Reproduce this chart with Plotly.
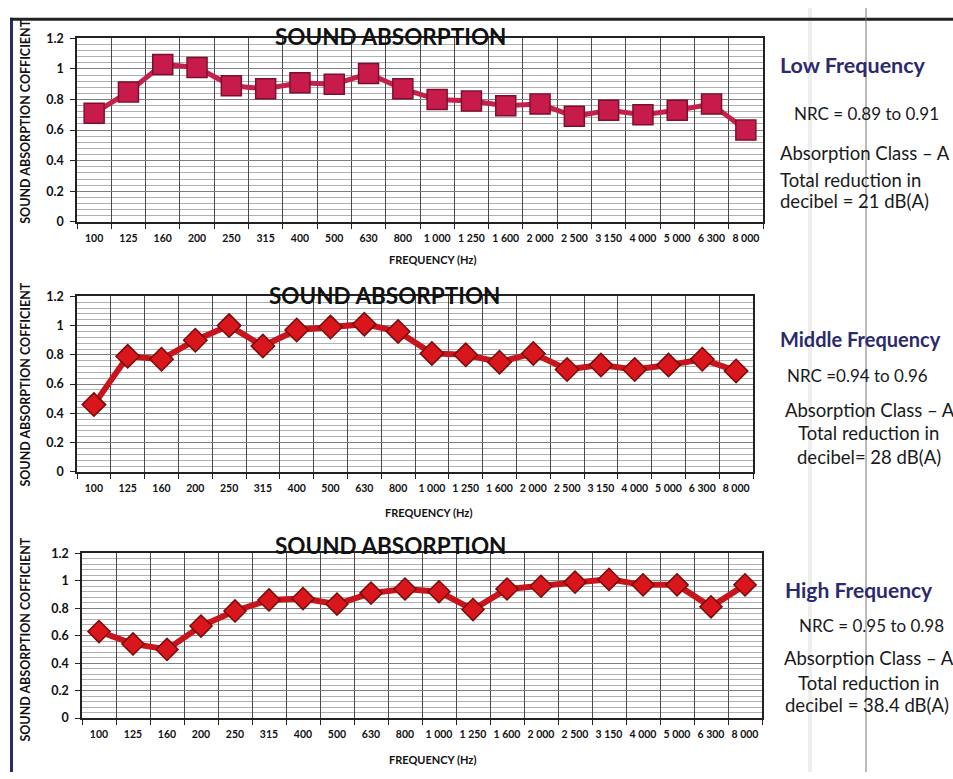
import plotly.graph_objects as go

W, H = 953, 779

frequencies = ["100", "125", "160", "200", "250", "315", "400", "500", "630", "800",
               "1 000", "1 250", "1 600", "2 000", "2 500", "3 150", "4 000", "5 000", "6 300", "8 000"]
low_freq = [0.71, 0.85, 1.03, 1.01, 0.89, 0.87, 0.91, 0.90, 0.97, 0.87,
            0.80, 0.79, 0.76, 0.77, 0.69, 0.73, 0.70, 0.73, 0.77, 0.60]
mid_freq = [0.46, 0.79, 0.77, 0.90, 1.00, 0.86, 0.97, 0.99, 1.01, 0.96,
            0.81, 0.80, 0.75, 0.81, 0.70, 0.73, 0.70, 0.73, 0.77, 0.69]
high_freq = [0.63, 0.54, 0.50, 0.67, 0.78, 0.86, 0.87, 0.83, 0.91, 0.94,
             0.92, 0.79, 0.94, 0.96, 0.99, 1.01, 0.97, 0.97, 0.81, 0.97]
y_tick_vals = [0, 0.2, 0.4, 0.6, 0.8, 1.0, 1.2]
y_tick_text = ["0", "0.2", "0.4", "0.6", "0.8", "1", "1.2"]

chart_title = "SOUND ABSORPTION"
x_title = "FREQUENCY (Hz)"
y_title = "SOUND ABSORPTION COFFICIENT"

side_texts = [
    ["Low Frequency", "NRC = 0.89 to 0.91", "Absorption Class \u2013 A", "Total reduction in", "decibel = 21 dB(A)"],
    ["Middle Frequency", "NRC =0.94 to 0.96", "Absorption Class \u2013 A", "Total reduction in", "decibel= 28 dB(A)"],
    ["High Frequency", "NRC = 0.95 to 0.98", "Absorption Class \u2013 A", "Total reduction in", "decibel = 38.4 dB(A)"],
]

# layout (pixels)
panels = [(77, 31, 763, 218), (77, 294, 753, 473), (82, 556, 762, 724)]
title_pos = [(390, 29), (384, 293), (390, 548)]
xtitle_pos = [(432, 256), (428, 514), (432, 766)]
ytitle_pos = [(26, 116), (26, 384), (26, 644)]
side_pos = [
    [(778, 58), (792, 108), (778, 148), (778, 175), (778, 197)],
    [(778, 337), (785, 375), (783, 410), (796, 433), (795, 458)],
    [(783, 593), (797, 630), (782, 663), (796, 688), (783, 711)],
]
head_sizes = [21.5, 20, 21]
series = [low_freq, mid_freq, high_freq]
styles = [
    dict(symbol="square", size=20, fill="#c71c4b", edge="#7d0f2c", line="#c4204c", lw=5),
    dict(symbol="diamond", size=18, fill="#d8161c", edge="#7a0a0a", line="#c8141c", lw=6),
    dict(symbol="diamond", size=17, fill="#d8161c", edge="#7a0a0a", line="#c8141c", lw=6),
]


def px(x):
    return x / W


def py(y):
    return 1 - y / H


fig = go.Figure()
annotations = []
layout_axes = {}

for i, (vals, st, box) in enumerate(zip(series, styles, panels)):
    n = "" if i == 0 else str(i + 1)
    fig.add_trace(go.Scatter(
        x=frequencies, y=vals, mode="lines+markers",
        xaxis="x" + n, yaxis="y" + n,
        line=dict(color=st["line"], width=st["lw"]),
        marker=dict(symbol=st["symbol"], size=st["size"], color=st["fill"],
                    line=dict(color=st["edge"], width=1.5)),
        cliponaxis=False, showlegend=False, hoverinfo="x+y",
    ))
    l, t, r, b = box
    layout_axes["xaxis" + n] = dict(
        domain=[px(l), px(r)], anchor="y" + n, type="category",
        range=[-0.5, len(frequencies) - 0.5],
        tickson="boundaries", ticks="outside", ticklen=5, tickcolor="#222",
        tickangle=0,
        showgrid=True, gridcolor="#4a4a4a", gridwidth=1,
        showline=True, linecolor="#222", linewidth=1.5, mirror=True,
        tickfont=dict(family="Lato", size=10.5, color="#111", weight="bold"),
        ticklabelstandoff=6, fixedrange=True,
    )
    layout_axes["yaxis" + n] = dict(
        domain=[py(b), py(t)], anchor="x" + n, range=[0, 1.2],
        tickvals=y_tick_vals, ticktext=y_tick_text,
        ticks="outside", ticklen=5, tickcolor="#222",
        showgrid=True, gridcolor="#808080", gridwidth=1,
        minor=dict(dtick=0.04, showgrid=True, gridcolor="#b0b0b0", gridwidth=1),
        showline=True, linecolor="#222", linewidth=1.5, mirror=True,
        zeroline=False,
        tickfont=dict(family="Lato", size=12.5, color="#111", weight="bold"),
        ticklabelstandoff=4,
        fixedrange=True,
    )
    tx, ty = title_pos[i]
    annotations.append(dict(x=px(tx), y=py(ty), xref="paper", yref="paper", text="<b>" + chart_title + "</b>",
                            showarrow=False, xanchor="center", yanchor="middle",
                            font=dict(family="Lato", size=22.5, color="#111")))
    fx, fy = xtitle_pos[i]
    annotations.append(dict(x=px(fx), y=py(fy), xref="paper", yref="paper", text="<b>" + x_title + "</b>",
                            showarrow=False, xanchor="center", yanchor="middle",
                            font=dict(family="Lato", size=11, color="#111")))
    yx, yy = ytitle_pos[i]
    annotations.append(dict(x=px(yx), y=py(yy), xref="paper", yref="paper", text="<b>" + y_title + "</b>",
                            showarrow=False, xanchor="center", yanchor="middle", textangle=-90,
                            font=dict(family="Lato", size=12.5, color="#111")))
    for j, (txt, (sx, sy)) in enumerate(zip(side_texts[i], side_pos[i])):
        if j == 0:
            font = dict(family="Lato", size=head_sizes[i], color="#2b2a6c")
            txt = "<b>" + txt + "</b>"
        elif j == 1:
            font = dict(family="Lato", size=17, color="#1a1a1a")
        else:
            font = dict(family="Lato", size=18.5, color="#1a1a1a")
        annotations.append(dict(x=px(sx), y=py(sy), xref="paper", yref="paper", text=txt,
                                showarrow=False, xanchor="left", yanchor="middle", font=font))

shapes = [
    dict(type="rect", xref="paper", yref="paper", x0=px(10), x1=px(13), y0=0, y1=py(10),
         fillcolor="#2a2a6c", line=dict(width=0), layer="above"),
    dict(type="rect", xref="paper", yref="paper", x0=px(10), x1=1, y0=py(13), y1=py(10),
         fillcolor="#222", line=dict(width=0), layer="above"),
    dict(type="rect", xref="paper", yref="paper", x0=px(808), x1=px(812), y0=0, y1=1,
         fillcolor="#eeeeee", line=dict(width=0), layer="below"),
    dict(type="line", xref="paper", yref="paper", x0=px(866), x1=px(866), y0=0, y1=1,
         line=dict(color="#777", width=1), layer="above"),
]

fig.update_layout(
    width=W, height=H,
    margin=dict(l=0, r=0, t=0, b=0),
    paper_bgcolor="white", plot_bgcolor="white",
    annotations=annotations, shapes=shapes,
    **layout_axes,
)

fig.write_html("out.html", config={"displayModeBar": False},
               post_script="document.body.style.margin='0';document.body.style.overflow='hidden';")
